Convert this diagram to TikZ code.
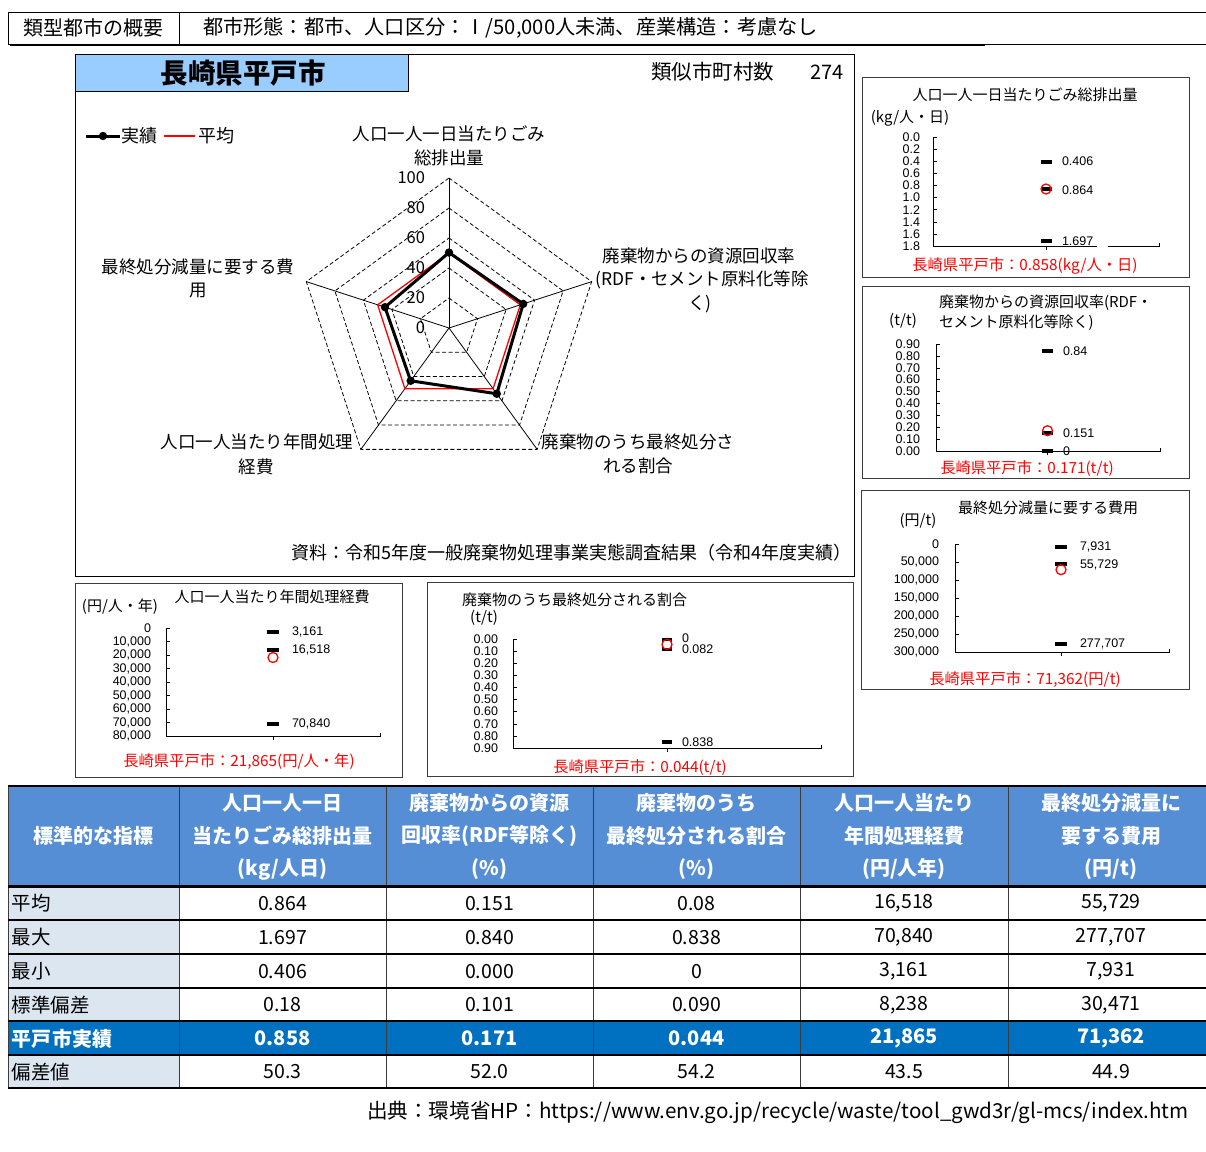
\documentclass[tikz,border=0pt]{standalone}
\usepackage{fontspec}
\setmainfont{Noto Sans CJK JP}
\newfontfamily\numfont{Liberation Sans}
\usetikzlibrary{calc}
\definecolor{hdrblue}{RGB}{85,142,213}
\definecolor{rowblue}{RGB}{0,112,192}
\definecolor{paleblue}{RGB}{220,230,241}
\definecolor{titleblue}{RGB}{153,204,255}
\definecolor{gridgray}{RGB}{60,60,60}
\newcommand\myfs[1]{\fontsize{#1}{#1}\selectfont}
\tikzset{
  tx/.style={inner sep=0pt, outer sep=0pt},
  rl/.style={tx, font=\myfs{17.5}},
  st/.style={tx, font=\myfs{15}},
  tk/.style={tx, anchor=east, font=\numfont\myfs{12.5}},
  vl/.style={tx, anchor=west, font=\numfont\myfs{12.5}},
  red lab/.style={tx, text=red, font=\myfs{15.3}},
  bar/.style={fill=black},
  avgc/.style={draw=red, line width=1.3pt, fill=none},
  th/.style={tx, text=white, font=\bfseries\myfs{20}},
  td/.style={tx, font=\myfs{19.5}},
}
\begin{document}
\begin{tikzpicture}[x=1pt,y=-1pt]
\useasboundingbox[fill=white] (0,0) rectangle (1206,1151);

% ---------- header ----------
\draw[line width=0.9pt] (8,12) rectangle (1212,44);
\draw[line width=0.9pt] (179,12) -- (179,44);
\draw[line width=1.2pt] (10,45.5) -- (985,45.5);
\node[tx, font=\myfs{20}] (h1) at (93.5,27.5) {類型都市の概要};
\node[tx, anchor=west, font=\myfs{20.2}] (h2) at (203,27.5) {都市形態：都市、人口区分：Ⅰ/50,000人未満、産業構造：考慮なし};

% ---------- radar panel ----------
\draw[line width=1pt] (75,54) rectangle (854,576);
\draw[line width=1pt, fill=titleblue] (75,54) rectangle (408,91);
\node[tx, font=\bfseries\myfs{27.5}] (ttl) at (243,73) {長崎県平戸市};
\node[tx, anchor=west, font=\myfs{20.5}] (nsim) at (651,72) {類似市町村数};
\node[tx, anchor=east, font=\myfs{20}] (nsimv) at (844,72) {274};

% legend
\draw[line width=3pt] (86,136) -- (120,136);
\fill (103,136) circle (4.2);
\node[tx, anchor=west, font=\myfs{18}] (lg1) at (121,136) {実績};
\draw[red, line width=1.2pt] (164,136) -- (195,136);
\node[tx, anchor=west, font=\myfs{18}] (lg2) at (198,136) {平均};

\begin{scope}[shift={(449,328)}]
  \foreach \r in {30,60,90,120,150}
    \draw[line width=0.8pt, dash pattern=on 4pt off 2.5pt] (-90:\r) -- (-18:\r) -- (54:\r) -- (126:\r) -- (-162:\r) -- cycle;
  \foreach \a in {-90,-18,54,126,-162}
    \draw[line width=0.8pt] (0,0) -- (\a:150);
  \draw[red, line width=1.3pt] (-90:75) -- (-18:75) -- (54:75) -- (126:75) -- (-162:75) -- cycle;
  \draw[line width=3pt, line join=round] (-90:75.45) coordinate (p1) -- (-18:78) coordinate (p2) -- (54:81.3) coordinate (p3) -- (126:65.25) coordinate (p4) -- (-162:67.35) coordinate (p5) -- cycle;
  \foreach \p in {p1,p2,p3,p4,p5} \fill (\p) circle (4.2);
\end{scope}
\foreach \v/\yy in {100/178,80/208,60/238,40/268,20/298,0/328}
  \node[tx, anchor=east, font=\myfs{16.5}] (rt\v) at (425,\yy) {\v};

\node[rl] (ax1a) at (449,134) {人口一人一日当たりごみ};
\node[rl] (ax1b) at (449,158) {総排出量};
\node[rl] (ax2a) at (699,256) {廃棄物からの資源回収率};
\node[rl] (ax2b) at (702,280) {(RDF・セメント原料化等除};
\node[rl] (ax2c) at (700,304) {く)};
\node[rl] (ax3a) at (638,442) {廃棄物のうち最終処分さ};
\node[rl] (ax3b) at (638,466) {れる割合};
\node[rl] (ax4a) at (257,442) {人口一人当たり年間処理};
\node[rl] (ax4b) at (256,467) {経費};
\node[rl] (ax5a) at (198,267) {最終処分減量に要する費};
\node[rl] (ax5b) at (198,291) {用};
\node[tx, anchor=east, font=\myfs{18}] (src) at (851,553) {資料：令和5年度一般廃棄物処理事業実態調査結果（令和4年度実績）};

% ---------- chart 1 : kg/person/day ----------
\draw[line width=0.9pt, draw=gridgray] (862,77) rectangle (1189,277);
\node[st] (c1t) at (1025,95) {人口一人一日当たりごみ総排出量};
\node[st] (c1u) at (910,118) {(kg/人・日)};
\foreach \i/\lab in {0/0.0,1/0.2,2/0.4,3/0.6,4/0.8,5/1.0,6/1.2,7/1.4,8/1.6,9/1.8} {
  \pgfmathsetmacro\yy{137+\i*12.11}
  \node[tk] (c1k\i) at (920,\yy) {\lab};
  \draw (933,\yy) -- (937,\yy);
}
\draw (933,137) -- (933,246) -- (1097,246);
\draw (1108,246) -- (1159,246) -- (1159,243);
\draw (1046,246) -- (1046,250);
\fill[bar] (1041,159.6) rectangle (1052,163.6);
\fill[bar] (1041,187.3) rectangle (1052,191.3);
\fill[bar] (1041,238.8) rectangle (1052,242.8);
\draw[avgc] (1046,189) circle (5);
\node[vl] (c1a) at (1062,161.6) {0.406};
\node[vl] (c1b) at (1062,189.8) {0.864};
\node[vl] (c1c) at (1062,241.5) {1.697};
\node[red lab] (c1r) at (1025,266) {長崎県平戸市：0.858(kg/人・日)};

% ---------- chart 2 : recovery rate ----------
\draw[line width=0.9pt, draw=gridgray] (862,286) rectangle (1189,478);
\node[st, anchor=west] (c2t1) at (939,303) {廃棄物からの資源回収率(RDF・};
\node[st, anchor=west] (c2t2) at (939,323) {セメント原料化等除く)};
\node[st] (c2u) at (903,321) {(t/t)};
\foreach \i/\lab in {0/0.90,1/0.80,2/0.70,3/0.60,4/0.50,5/0.40,6/0.30,7/0.20,8/0.10,9/0.00} {
  \pgfmathsetmacro\yy{344+\i*11.89}
  \node[tk] (c2k\i) at (920,\yy) {\lab};
  \draw (936,\yy) -- (940,\yy);
}
\draw (936,344) -- (936,451) -- (1160,451) -- (1160,448);
\draw (1047.5,451) -- (1047.5,455);
\fill[bar] (1042,349.1) rectangle (1053,353.1);
\fill[bar] (1042,431) rectangle (1053,435);
\fill[bar] (1042,449) rectangle (1053,453);
\draw[avgc] (1047.5,430.7) circle (5);
\node[vl] (c2a) at (1063,351.1) {0.84};
\node[vl] (c2b) at (1063,433.5) {0.151};
\node[vl] (c2c) at (1063,451) {0};
\node[red lab] (c2r) at (1027,469) {長崎県平戸市：0.171(t/t)};

% ---------- chart 5 : reduction cost ----------
\draw[line width=0.9pt, draw=gridgray] (861,490) rectangle (1189,689);
\node[st] (c5t) at (1048,508) {最終処分減量に要する費用};
\node[st] (c5u) at (918,521) {(円/t)};
\foreach \i/\lab in {0/0,1/{50,000},2/{100,000},3/{150,000},4/{200,000},5/{250,000},6/{300,000}} {
  \pgfmathsetmacro\yy{544+\i*18}
  \node[tk] (c5k\i) at (939,\yy) {\lab};
  \draw (955,\yy) -- (959,\yy);
}
\draw (955,544) -- (955,652) -- (1169,652) -- (1169,649);
\draw (1061,652) -- (1061,656);
\fill[bar] (1055,544.9) rectangle (1067,548.9);
\fill[bar] (1055,562.1) rectangle (1067,566.1);
\fill[bar] (1055,642) rectangle (1067,646);
\draw[avgc] (1061,569.7) circle (5);
\node[vl] (c5a) at (1080,547) {7,931};
\node[vl] (c5b) at (1080,565) {55,729};
\node[vl] (c5c) at (1080,644) {277,707};
\node[red lab] (c5r) at (1025,680) {長崎県平戸市：71,362(円/t)};

% ---------- chart 4 : annual cost ----------
\draw[line width=0.9pt, draw=gridgray] (75,583) rectangle (402,777);
\node[st] (c4t) at (272,597) {人口一人当たり年間処理経費};
\node[st] (c4u) at (120,607) {(円/人・年)};
\foreach \i/\lab in {0/0,1/{10,000},2/{20,000},3/{30,000},4/{40,000},5/{50,000},6/{60,000},7/{70,000},8/{80,000}} {
  \pgfmathsetmacro\yy{628+\i*13.5}
  \node[tk] (c4k\i) at (151,\yy) {\lab};
  \draw (166,\yy) -- (170,\yy);
}
\draw (166,628) -- (166,736) -- (380,736) -- (380,733);
\draw (273,736) -- (273,740);
\fill[bar] (267,630.3) rectangle (279,634.3);
\fill[bar] (267,648.3) rectangle (279,652.3);
\fill[bar] (267,721.6) rectangle (279,725.6);
\draw[avgc] (273,657.5) circle (5);
\node[vl] (c4a) at (292,632.3) {3,161};
\node[vl] (c4b) at (292,650.3) {16,518};
\node[vl] (c4c) at (292,724) {70,840};
\node[red lab] (c4r) at (239,762) {長崎県平戸市：21,865(円/人・年)};

% ---------- chart 3 : landfill ratio ----------
\draw[line width=0.9pt, draw=gridgray] (427,582) rectangle (853,776);
\node[st, anchor=west] (c3t) at (462,600) {廃棄物のうち最終処分される割合};
\node[st] (c3u) at (484,618) {(t/t)};
\foreach \i/\lab in {0/0.00,1/0.10,2/0.20,3/0.30,4/0.40,5/0.50,6/0.60,7/0.70,8/0.80,9/0.90} {
  \pgfmathsetmacro\yy{639+\i*12.1}
  \node[tk] (c3k\i) at (498,\yy) {\lab};
  \draw (513,\yy) -- (517,\yy);
}
\draw (513,639) -- (513,748) -- (821,748) -- (821,745);
\draw (667,748) -- (667,752);
\draw[line width=1.5pt] (662.5,639) rectangle (671.5,649);
\fill[bar] (662,637.5) rectangle (672,641);
\fill[bar] (662,647.5) rectangle (672,651);
\fill[bar] (662,740) rectangle (672,744);
\draw[avgc] (667,644.4) circle (5);
\node[vl] (c3a) at (682,638) {0};
\node[vl] (c3b) at (682,649.5) {0.082};
\node[vl] (c3c) at (682,742) {0.838};
\node[red lab] (c3r) at (640,768) {長崎県平戸市：0.044(t/t)};

% ---------- table ----------
\fill[hdrblue] (8,786) rectangle (1215,886);
\foreach \y/\yb in {886/920,920/954,954/988,988/1021,1055/1088}
  \fill[paleblue] (8,\y) rectangle (179,\yb);
\fill[rowblue] (8,1021) rectangle (1215,1055);
\foreach \x in {8,179,386,593,800,1008}
  \draw[line width=0.9pt, draw=gridgray] (\x,786) -- (\x,1088);
\foreach \y in {920,954,988,1021,1055,1088}
  \draw[line width=1.3pt] (8,\y) -- (1215,\y);
\draw[line width=2pt] (8,786) -- (1215,786);
\draw[line width=3pt] (8,886) -- (1215,886);

\node[th] (th0) at (93.5,836) {標準的な指標};
\node[th] (th1a) at (282.5,803) {人口一人一日};
\node[th] (th1b) at (282.5,836) {当たりごみ総排出量};
\node[th] (th1c) at (282.5,869) {(kg/人日)};
\node[th] (th2a) at (489.5,803) {廃棄物からの資源};
\node[th] (th2b) at (489.5,836) {回収率(RDF等除く)};
\node[th] (th2c) at (489.5,869) {(\%)};
\node[th] (th3a) at (696.5,803) {廃棄物のうち};
\node[th] (th3b) at (696.5,836) {最終処分される割合};
\node[th] (th3c) at (696.5,869) {(\%)};
\node[th] (th4a) at (904,803) {人口一人当たり};
\node[th] (th4b) at (904,836) {年間処理経費};
\node[th] (th4c) at (904,869) {(円/人年)};
\node[th] (th5a) at (1111,803) {最終処分減量に};
\node[th] (th5b) at (1111,836) {要する費用};
\node[th] (th5c) at (1111,869) {(円/t)};

\foreach \r/\y/\lab/\a/\b/\c/\d/\e in {
  1/903.5/平均/0.864/0.151/0.08/{16,518}/{55,729},
  2/937.5/最大/1.697/0.840/0.838/{70,840}/{277,707},
  3/971.5/最小/0.406/0.000/0/{3,161}/{7,931},
  4/1005/標準偏差/0.18/0.101/0.090/{8,238}/{30,471},
  6/1072/偏差値/50.3/52.0/54.2/43.5/44.9} {
  \node[td, anchor=west] (r\r l) at (12,\y) {\lab};
  \node[td] (r\r a) at (282.5,\y) {\a};
  \node[td] (r\r b) at (489.5,\y) {\b};
  \node[td] (r\r c) at (696.5,\y) {\c};
  \node[td] (r\r d) at (904,\y) {\d};
  \node[td] (r\r e) at (1111,\y) {\e};
}
\node[th, anchor=west] (r5l) at (12,1038.5) {平戸市実績};
\node[th] (r5a) at (282.5,1038.5) {0.858};
\node[th] (r5b) at (489.5,1038.5) {0.171};
\node[th] (r5c) at (696.5,1038.5) {0.044};
\node[th] (r5d) at (904,1038.5) {21,865};
\node[th] (r5e) at (1111,1038.5) {71,362};

\node[tx, anchor=west, font=\myfs{20.6}] (foot) at (367,1112) {出典：環境省HP：https://www.env.go.jp/recycle/waste/tool\_gwd3r/gl-mcs/index.htm};
\end{tikzpicture}
\end{document}
